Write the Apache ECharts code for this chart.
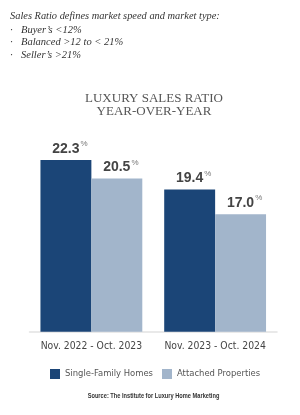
<!DOCTYPE html>
<html>
<head>
<meta charset="utf-8">
<script src="https://cdn.jsdelivr.net/npm/echarts@6/dist/echarts.min.js"></script>
<style>
html,body{margin:0;padding:0;background:#fff;}
#c{width:300px;height:415px;}
</style>
</head>
<body>
<div id="c"></div>
<script>
var categories = ['Nov. 2022 - Oct. 2023', 'Nov. 2023 - Oct. 2024'];
var seriesNames = ['Single-Family Homes', 'Attached Properties'];
var singleFamily = [22.3, 19.4];
var attached = [20.5, 17.0];
var noteTitle = 'Sales Ratio defines market speed and market type:';
var noteBullets = ['Buyer\u2019s <12%', 'Balanced >12 to < 21%', 'Seller\u2019s >21%'];
var chartTitle = 'LUXURY SALES RATIO\nYEAR-OVER-YEAR';
var sourceText = 'Source: The Institute for Luxury Home Marketing';

var NARROW = "'Liberation Sans Narrow', 'DejaVu Sans Condensed', 'Liberation Sans', sans-serif";
var SANS = "'Liberation Sans', Arial, sans-serif";
var SERIF = "'Liberation Serif', 'DejaVu Serif', serif";
var colors = ['#1b4577', '#a2b5cb'];

var chart = echarts.init(document.getElementById('c'), null, {renderer: 'canvas'});

function labelCfg() {
  return {
    show: true,
    position: 'top',
    distance: 4,
    offset: [4, 0],
    formatter: function (p) { return '{n|' + p.value.toFixed(1) + '}{p|%}'; },
    rich: {
      n: {fontFamily: SANS, fontWeight: 'bold', fontSize: 14, color: '#444', lineHeight: 16, verticalAlign: 'bottom'},
      p: {fontFamily: SANS, fontSize: 8, color: '#777', lineHeight: 16, verticalAlign: 'top', padding: [0, 0, 6, 1]}
    }
  };
}

var bulletText = noteBullets.map(function (b) { return '{d|\u00b7}{t|' + b + '}'; }).join('\n');

chart.setOption({
  animation: false,
  backgroundColor: '#fff',
  color: colors,
  title: [
    {
      text: noteTitle,
      left: 10, top: 10, padding: 0,
      textStyle: {fontFamily: SERIF, fontStyle: 'italic', fontSize: 10.4, fontWeight: 'normal', color: '#333', lineHeight: 12}
    },
    {
      text: bulletText,
      left: 10, top: 23.5, padding: 0,
      textStyle: {
        fontFamily: SERIF, fontStyle: 'italic', fontSize: 10.5, fontWeight: 'normal', color: '#333', lineHeight: 12.5,
        rich: {
          d: {fontFamily: SERIF, fontSize: 11, color: '#333', width: 11, lineHeight: 12.5},
          t: {fontFamily: SERIF, fontStyle: 'italic', fontSize: 10.5, color: '#333', lineHeight: 12.5}
        }
      }
    },
    {
      text: chartTitle,
      left: 154, top: 92.5, textAlign: 'center', padding: 0,
      textStyle: {fontFamily: SERIF, fontSize: 13, fontWeight: 'normal', color: '#555', lineHeight: 12.7}
    }
  ],
  graphic: [
    {
      type: 'text',
      x: 153.5, y: 393,
      scaleX: 0.81,
      style: {text: sourceText, textAlign: 'center', textVerticalAlign: 'top', fontFamily: SANS, fontSize: 7, fontWeight: 'bold', fill: '#333'}
    }
  ],
  legend: {
    top: 369,
    left: 50,
    padding: 0,
    itemWidth: 10,
    itemHeight: 10,
    itemGap: 9,
    icon: 'rect',
    textStyle: {fontFamily: NARROW, fontSize: 9.4, color: '#555'},
    data: seriesNames
  },
  grid: {left: 29.5, right: 23, top: 142.6, bottom: 83.3, containLabel: false},
  xAxis: {
    type: 'category',
    data: categories,
    axisTick: {show: false},
    axisLine: {lineStyle: {color: '#e2e2e2', width: 1.5}},
    axisLabel: {interval: 0, fontFamily: NARROW, fontSize: 10.3, color: '#444', margin: 10}
  },
  yAxis: {
    type: 'value', min: 5.5, max: 24, show: false, splitLine: {show: false}
  },
  series: [
    {name: seriesNames[0], type: 'bar', data: singleFamily, barGap: '0%', barCategoryGap: '17.7%', label: labelCfg()},
    {name: seriesNames[1], type: 'bar', data: attached, barGap: '0%', barCategoryGap: '17.7%', label: labelCfg()}
  ]
});
</script>
</body>
</html>
